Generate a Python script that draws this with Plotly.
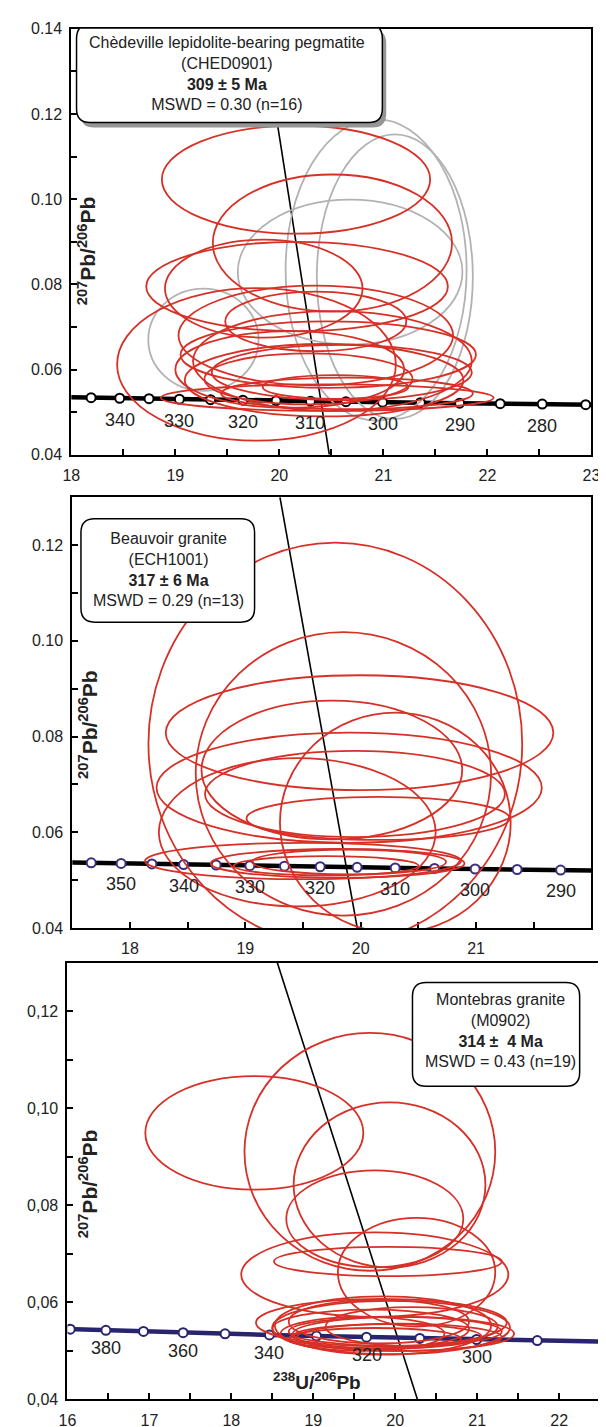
import plotly.graph_objects as go

# ---------------- DATA ----------------
# Tera-Wasserburg concordia reference points (age in Ma, 238U/206Pb, 207Pb/206Pb)
TW_AGE = [270, 275, 280, 285, 290, 295, 300, 305, 310, 315, 320, 325, 330, 335,
          340, 345, 350, 355, 360, 370, 380, 390, 400]
TW_X = [23.379, 22.945, 22.527, 22.123, 21.733, 21.356, 20.992, 20.640, 20.299,
        19.969, 19.649, 19.339, 19.039, 18.747, 18.465, 18.190, 17.923, 17.664,
        17.411, 16.928, 16.469, 16.034, 15.621]
TW_Y = [0.05165, 0.05176, 0.05188, 0.05199, 0.05211, 0.05222, 0.05233, 0.05245,
        0.05256, 0.05268, 0.05280, 0.05291, 0.05303, 0.05315, 0.05326, 0.05338,
        0.05350, 0.05362, 0.05374, 0.05398, 0.05422, 0.05446, 0.05470]

# Panel 1 : Chedeville pegmatite
p1_marker_ages = [345, 340, 335, 330, 325, 320, 315, 310, 305, 300, 295, 290, 285, 280, 275]
p1_label_ages = [340, 330, 320, 310, 300, 290, 280]
p1_line_ages = [350, 345, 340, 335, 330, 325, 320, 315, 310, 305, 300, 295, 290, 285, 280, 275, 270]
p1_red_cx = [20.16, 20.51, 20.17, 19.85, 20.35, 19.78, 20.47, 20.35, 20.51, 20.10, 20.46, 20.65, 20.28, 20.54, 20.43, 20.60]
p1_red_cy = [0.1046, 0.0897, 0.0795, 0.0790, 0.0680, 0.0612, 0.0635, 0.0713, 0.0620, 0.0600, 0.0534, 0.0544, 0.0578, 0.0559, 0.0575, 0.0593]
p1_red_rx = [1.29, 1.15, 1.45, 0.95, 1.32, 1.34, 1.42, 0.87, 1.34, 1.10, 1.60, 1.21, 1.00, 0.70, 1.34, 1.25]
p1_red_ry = [0.0127, 0.0161, 0.0105, 0.0115, 0.0117, 0.0179, 0.0078, 0.0070, 0.0117, 0.0090, 0.0031, 0.0037, 0.0060, 0.0028, 0.0085, 0.0065]
p1_gray_cx = [20.93, 21.11, 20.68, 19.27]
p1_gray_cy = [0.0834, 0.0818, 0.0829, 0.0670]
p1_gray_rx = [0.87, 0.75, 1.08, 0.53]
p1_gray_ry = [0.0354, 0.0334, 0.0170, 0.0120]
p1_discordia_x = [19.838, 20.48]
p1_discordia_y = [0.14, 0.04]
p1_text = ["Chèdeville lepidolite-bearing pegmatite", "(CHED0901)", "<b>309 ± 5 Ma</b>", "MSWD = 0.30 (n=16)"]

# Panel 2 : Beauvoir granite
p2_marker_ages = [355, 350, 345, 340, 335, 330, 325, 320, 315, 310, 305, 300, 295, 290]
p2_label_ages = [350, 340, 330, 320, 310, 300, 290]
p2_line_ages = [360, 355, 350, 345, 340, 335, 330, 325, 320, 315, 310, 305, 300, 295, 290, 285]
p2_red_cx = [19.78, 19.85, 19.99, 19.75, 19.90, 19.95, 20.15, 19.50, 19.80, 19.90, 19.45, 20.30, 19.70]
p2_red_cy = [0.0785, 0.0722, 0.0808, 0.0730, 0.0693, 0.0680, 0.0629, 0.0540, 0.0535, 0.0538, 0.0600, 0.0620, 0.0530]
p2_red_rx = [1.62, 1.28, 1.68, 1.13, 1.67, 1.30, 1.14, 1.37, 1.10, 0.84, 1.20, 1.00, 0.80]
p2_red_ry = [0.0420, 0.0296, 0.0120, 0.0145, 0.0115, 0.0090, 0.0045, 0.0038, 0.0030, 0.0026, 0.0155, 0.0230, 0.0020]
p2_discordia_x = [19.30, 19.97]
p2_discordia_y = [0.13, 0.04]
p2_text = ["Beauvoir granite", "(ECH1001)", "<b>317 ± 6 Ma</b>", "MSWD = 0.29 (n=13)"]

# Panel 3 : Montebras granite
p3_marker_ages = [390, 380, 370, 360, 350, 340, 330, 320, 310, 300, 290]
p3_label_ages = [380, 360, 340, 320, 300]
p3_line_ages = [400, 390, 380, 370, 360, 350, 340, 330, 320, 310, 300, 290, 280]
p3_red_cx = [18.28, 19.69, 19.93, 19.75, 20.26, 19.75, 19.91, 19.83, 19.85, 19.70, 20.00, 19.90, 19.60, 20.10, 19.95, 19.75, 20.05, 19.80, 20.20]
p3_red_cy = [0.0949, 0.0910, 0.0842, 0.0772, 0.0662, 0.0657, 0.0684, 0.0558, 0.0552, 0.0545, 0.0540, 0.0530, 0.0535, 0.0535, 0.0548, 0.0525, 0.0528, 0.0560, 0.0550]
p3_red_rx = [1.33, 1.53, 1.17, 1.08, 0.96, 1.63, 1.39, 1.53, 1.32, 1.20, 1.30, 1.15, 1.00, 1.35, 1.45, 1.05, 1.25, 1.10, 1.05]
p3_red_ry = [0.0117, 0.0245, 0.0170, 0.0100, 0.0112, 0.0087, 0.0030, 0.0049, 0.0060, 0.0040, 0.0030, 0.0025, 0.0035, 0.0035, 0.0055, 0.0022, 0.0028, 0.0045, 0.0040]
p3_discordia_x = [18.56, 20.27]
p3_discordia_y = [0.13, 0.04]
p3_text = ["Montebras granite", "(M0902)", "<b>314 ±  4 Ma</b>", "MSWD = 0.43 (n=19)"]

y_tick_vals = [0.04, 0.06, 0.08, 0.10, 0.12, 0.14]
y_tick_text_dot = ["0.04", "0.06", "0.08", "0.10", "0.12", "0.14"]
y_tick_text_comma = ["0,04", "0,06", "0,08", "0,10", "0,12", "0,14"]

# ---------------- STYLE ----------------
FONT = "Liberation Sans, Arial, sans-serif"
TXT = "#222222"
RED = "rgb(214,48,39)"
GRAY = "rgb(178,178,178)"
NAVY = "rgb(40,36,110)"
W, H = 606, 1427
BOX_FONT = 16

panels = [
    dict(xa="x", ya="y", xr=[18, 23], yr=[0.04, 0.14], px=(56, 592), py=(13, 444),
         xt=[18, 19, 20, 21, 22, 23], ytext=y_tick_text_dot,
         marker_ages=p1_marker_ages, label_ages=p1_label_ages, line_ages=p1_line_ages,
         line_color="black", mk_edge="black", label_shift=-22,
         red=(p1_red_cx, p1_red_cy, p1_red_rx, p1_red_ry),
         gray=(p1_gray_cx, p1_gray_cy, p1_gray_rx, p1_gray_ry),
         disc=(p1_discordia_x, p1_discordia_y),
         box=dict(x0=18.05, x1=20.99, y0=0.1180, y1=0.1410, shadow=True),
         text=p1_text, text_xy=(19.50, 0.1296),
         ytitle_xy=(18.15, 0.088)),
    dict(xa="x2", ya="y2", xr=[17.5, 22.0], yr=[0.04, 0.13], px=(57, 592), py=(487, 923),
         xt=[18, 19, 20, 21], ytext=y_tick_text_dot,
         marker_ages=p2_marker_ages, label_ages=p2_label_ages, line_ages=p2_line_ages,
         line_color="black", mk_edge="rgb(60,45,125)", label_shift=-21,
         red=(p2_red_cx, p2_red_cy, p2_red_rx, p2_red_ry), gray=None,
         disc=(p2_discordia_x, p2_discordia_y),
         box=dict(x0=17.575, x1=19.08, y0=0.1039, y1=0.1255, shadow=False),
         text=p2_text, text_xy=(18.33, 0.1148),
         ytitle_xy=(17.63, 0.0825)),
    dict(xa="x3", ya="y3", xr=[16, 22.5], yr=[0.04, 0.13], px=(52, 601), py=(958, 1400),
         xt=[16, 17, 18, 19, 20, 21, 22], ytext=y_tick_text_comma,
         marker_ages=p3_marker_ages, label_ages=p3_label_ages, line_ages=p3_line_ages,
         line_color=NAVY, mk_edge=NAVY, label_shift=-18,
         red=(p3_red_cx, p3_red_cy, p3_red_rx, p3_red_ry), gray=None,
         disc=(p3_discordia_x, p3_discordia_y),
         box=dict(x0=20.21, x1=22.25, y0=0.1045, y1=0.1259, shadow=False),
         text=p3_text, text_xy=(21.29, 0.1160),
         ytitle_xy=(16.26, 0.0845)),
]


def tw(age_list):
    xs = [TW_X[TW_AGE.index(a)] for a in age_list]
    ys = [TW_Y[TW_AGE.index(a)] for a in age_list]
    return xs, ys


def rounded_path(x0, x1, y0, y1, rx, ry):
    return (f"M {x0+rx},{y0} L {x1-rx},{y0} Q {x1},{y0} {x1},{y0+ry} "
            f"L {x1},{y1-ry} Q {x1},{y1} {x1-rx},{y1} L {x0+rx},{y1} "
            f"Q {x0},{y1} {x0},{y1-ry} L {x0},{y0+ry} Q {x0},{y0} {x0+rx},{y0} Z")


fig = go.Figure()
shapes = []
annotations = []
layout_axes = {}

for i, p in enumerate(panels):
    n = "" if i == 0 else str(i + 1)
    xa, ya = p["xa"], p["ya"]
    xdom = [p["px"][0] / W, p["px"][1] / W]
    ydom = [1 - p["py"][1] / H, 1 - p["py"][0] / H]
    ax_common = dict(showline=True, linecolor="black", linewidth=2, mirror=True,
                     ticks="inside", ticklen=6, tickwidth=1.5, tickcolor="black",
                     showgrid=False, zeroline=False)
    layout_axes["xaxis" + n] = dict(ax_common, domain=xdom, range=p["xr"], anchor=ya,
                                    tickvals=p["xt"], ticktext=[str(v) for v in p["xt"]],
                                    tickfont=dict(family=FONT, size=16, color=TXT),
                                    minor=dict(dtick=0.5, ticks="inside", ticklen=6,
                                               tickwidth=1.5, tickcolor="black"),
                                    ticklabelstandoff=5)
    layout_axes["yaxis" + n] = dict(ax_common, domain=ydom, range=p["yr"], anchor=xa,
                                    tickvals=y_tick_vals, ticktext=p["ytext"],
                                    tickfont=dict(family=FONT, size=16, color=TXT),
                                    minor=dict(dtick=0.01, ticks="inside", ticklen=6,
                                               tickwidth=1.5, tickcolor="black"),
                                    ticklabelstandoff=4)

    # discordia line
    fig.add_trace(go.Scatter(x=p["disc"][0], y=p["disc"][1], mode="lines",
                             line=dict(color="black", width=1.6), xaxis=xa, yaxis=ya,
                             showlegend=False, hoverinfo="skip"))
    # concordia curve
    lx, ly = tw(p["line_ages"])
    fig.add_trace(go.Scatter(x=lx, y=ly, mode="lines",
                             line=dict(color=p["line_color"], width=4.5),
                             xaxis=xa, yaxis=ya, showlegend=False, hoverinfo="skip"))
    mx, my = tw(p["marker_ages"])
    fig.add_trace(go.Scatter(x=mx, y=my, mode="markers",
                             marker=dict(size=9, color="white",
                                         line=dict(color=p["mk_edge"], width=2)),
                             xaxis=xa, yaxis=ya, showlegend=False, hoverinfo="skip"))
    # concordia age labels
    tx, ty = tw(p["label_ages"])
    for a, xx, yy in zip(p["label_ages"], tx, ty):
        annotations.append(dict(x=xx, y=yy, xref=xa, yref=ya, text=str(a), showarrow=False,
                                yshift=p["label_shift"], font=dict(family=FONT, size=18, color=TXT)))

    # ellipses
    def add_ell(group, color):
        cx, cy, rx, ry = group
        for a, b, c, d in zip(cx, cy, rx, ry):
            shapes.append(dict(type="circle", xref=xa, yref=ya, x0=a - c, x1=a + c,
                               y0=b - d, y1=b + d, line=dict(color=color, width=1.8),
                               fillcolor="rgba(0,0,0,0)", layer="above"))
    if p["gray"] is not None:
        add_ell(p["gray"], GRAY)
    add_ell(p["red"], RED)

    # text box
    bx = p["box"]
    xspan = p["xr"][1] - p["xr"][0]
    yspan = p["yr"][1] - p["yr"][0]
    rxd = 14 / (p["px"][1] - p["px"][0]) * xspan
    ryd = 14 / (p["py"][1] - p["py"][0]) * yspan
    if bx["shadow"]:
        dx = 4 / (p["px"][1] - p["px"][0]) * xspan
        dy = 5 / (p["py"][1] - p["py"][0]) * yspan
        shapes.append(dict(type="path", xref=xa, yref=ya,
                           path=rounded_path(bx["x0"] + dx, bx["x1"] + dx, bx["y0"] - dy,
                                             bx["y1"] - dy, rxd, ryd),
                           fillcolor="rgb(150,150,150)", line=dict(width=0), layer="above"))
    shapes.append(dict(type="path", xref=xa, yref=ya,
                       path=rounded_path(bx["x0"], bx["x1"], bx["y0"], bx["y1"], rxd, ryd),
                       fillcolor="white", line=dict(color="black", width=1.5), layer="above"))
    annotations.append(dict(x=p["text_xy"][0], y=p["text_xy"][1], xref=xa, yref=ya,
                            text="<br>".join(p["text"]), showarrow=False, align="center",
                            font=dict(family=FONT, size=BOX_FONT, color=TXT)))
    # y-axis title inside the plot
    annotations.append(dict(x=p["ytitle_xy"][0], y=p["ytitle_xy"][1], xref=xa, yref=ya,
                            text="<b><sup>207</sup>Pb/<sup>206</sup>Pb</b>", textangle=-90,
                            showarrow=False,
                            font=dict(family=FONT, size=21, color=TXT)))

# x title inside panel 3
annotations.append(dict(x=19.05, y=0.0437, xref="x3", yref="y3",
                        text="<b><sup>238</sup>U/<sup>206</sup>Pb</b>", showarrow=False,
                        font=dict(family=FONT, size=19, color=TXT)))

fig.update_layout(width=W, height=H, margin=dict(l=0, r=0, t=0, b=0),
                  paper_bgcolor="white", plot_bgcolor="white",
                  shapes=shapes, annotations=annotations, showlegend=False,
                  **layout_axes)

fig.write_html("out.html")
